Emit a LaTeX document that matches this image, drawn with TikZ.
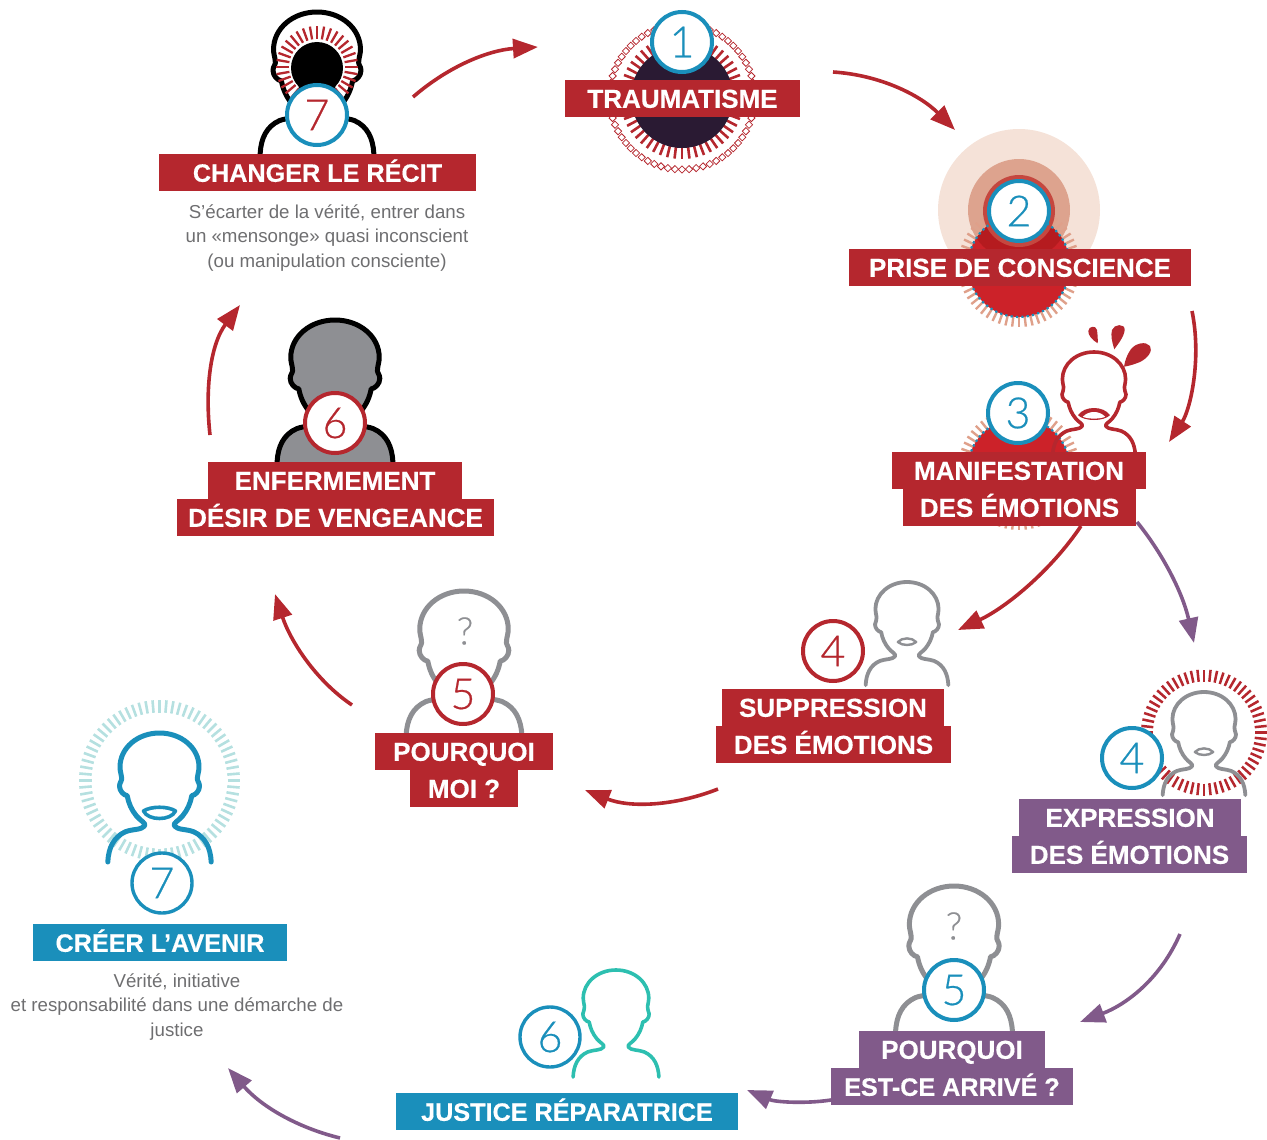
\documentclass[tikz,border=0pt]{standalone}
\usepackage{fontspec}
\setmainfont{Liberation Sans}
\newfontfamily\numfont[FakeBold=0.5]{Lato Light}
\newfontfamily\labfont[FakeBold=0.4,UprightFont=* Bold]{Liberation Sans}
\usetikzlibrary{arrows.meta}
\definecolor{cred}{HTML}{B5272E}
\definecolor{cteal}{HTML}{1A8FBB}
\definecolor{cpurple}{HTML}{815A8A}
\definecolor{cgrey}{HTML}{8E8F93}
\definecolor{cdark}{HTML}{2A1A33}
\definecolor{cdisc}{HTML}{CC2229}
\definecolor{cdiscd}{HTML}{B51B1F}
\definecolor{ctick}{HTML}{DFA08A}
\definecolor{chalo}{HTML}{F5E2D8}
\definecolor{chalob}{HTML}{DDA38E}
\definecolor{chaloc}{HTML}{C5473F}
\definecolor{cmint}{HTML}{B5E0E0}
\definecolor{cgreen}{HTML}{2DBFB0}
\definecolor{ctext}{HTML}{6E6E70}
\tikzset{
 lab/.style={rectangle,inner sep=0pt,outer sep=0pt,minimum height=37pt,text=white,font=\labfont\fontsize{26}{26}\selectfont,text height=18.6pt,text depth=0pt},
 redlab/.style={lab,fill=cred},
 purplab/.style={lab,fill=cpurple},
 teallab/.style={lab,fill=cteal},
 tight/.style={font=\labfont\fontsize{25.2}{26}\selectfont},
 numc/.style={circle,fill=white,inner sep=0pt,outer sep=0pt,minimum size=60pt,line width=4pt,font=\fontsize{43}{43}\numfont},
 arrowline/.style={line width=3.6pt,-{Triangle[length=25pt,width=19pt]}},
 blurb/.style={align=center,inner sep=0pt,text=ctext,font=\fontsize{18.7}{24.8}\selectfont},
 qmark/.style={inner sep=0pt,text=cgrey,font=\fontsize{38}{38}\numfont},
}
\newcommand\personcurve{(51.7,129) .. controls (51,115) and (46,104) .. (34,98.7)
 .. controls (27,96) and (18,97) .. (15,93)
 .. controls (13,90) and (19,88) .. (23,83)
 .. controls (28,77) and (31,70) .. (32.3,62.7)
 .. controls (36,62) and (40,58) .. (40,53)
 .. controls (40,49) and (37,48) .. (38,44)
 .. controls (38.5,40) and (39.5,38) .. (39.5,34)
 .. controls (39.5,15) and (22,0) .. (0,0)
 .. controls (-22,0) and (-39.5,15) .. (-39.5,34)
 .. controls (-39.5,38) and (-38.5,40) .. (-38,44)
 .. controls (-37,48) and (-40,49) .. (-40,53)
 .. controls (-40,58) and (-36,62) .. (-32.3,62.7)
 .. controls (-31,70) and (-28,77) .. (-23,83)
 .. controls (-19,88) and (-13,90) .. (-15,93)
 .. controls (-18,97) and (-27,96) .. (-34,98.7)
 .. controls (-46,104) and (-51,115) .. (-51.7,129)}
% x, top y, scale, colour, line width
\newcommand\person[5]{\begin{scope}[shift={(#1,#2)},xscale=#3,yscale=#3]
 \draw[#4,line width=#5pt,line cap=round,line join=round] \personcurve;
 \end{scope}}
\newcommand\smallmouth[4]{\begin{scope}[shift={(#1,#2)},xscale=#3,yscale=#3]
 \draw[#4,line width=2.4pt,line join=round] (-11.5,75) .. controls (-6,69) and (6,69) .. (11.5,75) .. controls (6,80) and (-6,80) .. (-11.5,75) -- cycle;
 \end{scope}}
% centre x, centre y, r1, r2, count, colour, width
\newcommand\ticks[7]{\foreach \ta in {1,...,#5}{
 \pgfmathsetmacro\tb{90+\ta*(360/#5)}
 \draw[#6,line width=#7pt] ([shift={(\tb:#3)}]#1,#2) -- ([shift={(\tb:#4)}]#1,#2);}}
% centre x, centre y, r, count, half diagonal, colour, line width
\newcommand\diamonds[7]{\foreach \ta in {1,...,#4}{
 \pgfmathsetmacro\tb{90+\ta*(360/#4)}
 \begin{scope}[shift={([shift={(\tb:#3)}]#1,#2)}]
 \draw[#6,line width=#7pt] (#5,0) -- (0,#5) -- (-#5,0) -- (0,-#5) -- cycle;
 \end{scope}}}
\begin{document}
\begin{tikzpicture}[x=1pt,y=-1pt]
\useasboundingbox (0,0) rectangle (1267,1140);
% --- 1 Traumatisme
\diamonds{682}{97}{72.5}{64}{3.6}{cred}{0.8}
\ticks{682}{97}{50}{62}{52}{cred}{2.6}
\fill[cdark] (682,97) circle (51);
% --- 2 Prise de conscience
\fill[chalo] (1019,210) circle (81);
\fill[chalob] (1019,210) circle (51);
\ticks{1019}{266}{50}{61}{56}{ctick}{2.4}
\fill[cdisc] (1019,266) circle (51);
\begin{scope}
 \clip (1019,210) circle (51);
 \fill[cdiscd] (1019,266) circle (51);
\end{scope}
\fill[chaloc] (1019,211) circle (36);
\draw[cteal,line width=2.2pt,dash pattern=on 2.2pt off 3.2pt] (1019,266) circle (51);
% --- 3 Manifestation
\ticks{1019}{469}{50}{61}{56}{ctick}{2.4}
\fill[cdisc] (1019,469) circle (51);
\draw[cteal,line width=2.2pt,dash pattern=on 2.2pt off 3.2pt] (1019,469) circle (51);
\person{1094}{352}{0.8}{cred}{3.6}
\begin{scope}[shift={(1094,352)},xscale=0.8,yscale=0.8]
 \fill[cred] (-20,79) .. controls (-12,67) and (12,67) .. (20,79) .. controls (12,87) and (-12,87) .. (-20,79) -- cycle;
 \fill[white] (-14,81) .. controls (-7,73) and (7,73) .. (14,81) .. controls (7,84) and (-7,84) .. (-14,81) -- cycle;
\end{scope}
\fill[cred] (1097.7,343.3) .. controls (1092,340) and (1088,335) .. (1088.3,331) .. controls (1088.5,326) and (1096,325) .. (1097,330) .. controls (1097.5,334) and (1098,339) .. (1097.7,343.3) -- cycle;
\fill[cred] (1114.3,349.3) .. controls (1112,342) and (1110.5,335) .. (1112,330) .. controls (1114,324) and (1125,323) .. (1124.7,330) .. controls (1124,337) and (1118,344) .. (1114.3,349.3) -- cycle;
\fill[cred] (1124,366.7) .. controls (1125,360) and (1127,355) .. (1131,349) .. controls (1136,343) and (1146,341) .. (1150,346) .. controls (1153,351) and (1148,358) .. (1140,362) .. controls (1135,364) and (1129,366) .. (1124,366.7) -- cycle;
% --- 4 Suppression
\person{907}{582}{0.8}{cgrey}{3.8}
\smallmouth{907}{582}{0.8}{cgrey}
% --- 4 Expression
\ticks{1204}{732.5}{51}{63}{60}{cred}{2.5}
\person{1204}{692}{0.8}{cgrey}{3.8}
\smallmouth{1204}{692}{0.8}{cgrey}
% --- 5 Pourquoi moi
\person{464}{591}{1.12}{cgrey}{5}
\node[qmark] (q1) at (465,631) {?};
% --- 5 Pourquoi est-ce arrive
\person{954}{886}{1.13}{cgrey}{5}
\node[qmark] (q2) at (954,926) {?};
% --- 6 Enfermement
\begin{scope}[shift={(335,320)},xscale=1.12,yscale=1.1]
 \fill[cgrey] \personcurve -- cycle;
 \draw[black,line width=5pt,line cap=round,line join=round] \personcurve;
\end{scope}
% --- 7 Changer le recit
\person{317}{12}{1.1}{black}{5}
\ticks{317}{67}{28}{41}{36}{cred}{2.3}
\fill[black] (317,68) circle (26);
\fill[black] (296,72) -- (338,72) -- (333,100) -- (301,100) -- cycle;
% --- 6 Justice
\person{616}{970}{0.83}{cgreen}{3.6}
% --- 7 Creer
\ticks{159.5}{780.5}{68}{80.5}{72}{cmint}{2.6}
\person{159.5}{733}{1}{cteal}{5}
\draw[cteal,line width=3.6pt,line join=round] (143.5,811) .. controls (151,806) and (168,806) .. (175.5,811) .. controls (171,821) and (148,821) .. (143.5,811) -- cycle;
% --- number circles
\node[numc,draw=cteal,text=cteal] (n1) at (682,42) {1};
\node[numc,draw=cteal,text=cteal] (n2) at (1019,211) {2};
\node[numc,draw=cteal,text=cteal] (n3) at (1018,413) {3};
\node[numc,draw=cred,text=cred] (n4r) at (833,651) {4};
\node[numc,draw=cteal,text=cteal] (n4t) at (1132,758) {4};
\node[numc,draw=cred,text=cred] (n5r) at (463,694) {5};
\node[numc,draw=cteal,text=cteal] (n5t) at (954,990) {5};
\node[numc,draw=cred,text=cred] (n6r) at (335,423) {6};
\node[numc,draw=cteal,text=cteal,line width=3.4pt] (n6t) at (550,1037) {6};
\node[numc,draw=cteal,text=cred] (n7r) at (317,115) {7};
\node[numc,draw=cteal,text=cteal,line width=3.4pt] (n7t) at (162,883) {7};
% --- labels
\node[redlab,minimum width=235pt] (l1) at (682.5,98.5) {TRAUMATISME};
\node[redlab,minimum width=342pt] (l2) at (1020,267.5) {PRISE DE CONSCIENCE};
\node[redlab,minimum width=254pt] (l3a) at (1019,470.5) {MANIFESTATION};
\node[redlab,minimum width=233pt] (l3b) at (1019.5,507.5) {DES ÉMOTIONS};
\node[redlab,minimum width=222pt] (l4a) at (833,707.5) {SUPPRESSION};
\node[redlab,minimum width=235pt] (l4b) at (833.5,744.5) {DES ÉMOTIONS};
\node[purplab,minimum width=222pt] (l4c) at (1130,817.5) {EXPRESSION};
\node[purplab,minimum width=235pt] (l4d) at (1129.5,854.5) {DES ÉMOTIONS};
\node[redlab,minimum width=178pt] (l5a) at (464,751.5) {POURQUOI};
\node[redlab,minimum width=108pt] (l5b) at (464,788.5) {MOI ?};
\node[purplab,minimum width=186pt] (l5c) at (952,1049.5) {POURQUOI};
\node[purplab,minimum width=242pt,tight] (l5d) at (952,1086.5) {EST-CE ARRIVÉ ?};
\node[redlab,minimum width=254pt] (l6a) at (335,480.5) {ENFERMEMENT};
\node[redlab,minimum width=317pt] (l6b) at (335.5,517.5) {DÉSIR DE VENGEANCE};
\node[redlab,minimum width=317pt,tight] (l7) at (317.5,172.5) {CHANGER LE RÉCIT};
\node[teallab,minimum width=342pt,tight] (l8) at (567,1111.5) {JUSTICE RÉPARATRICE};
\node[teallab,minimum width=254pt,tight] (l9) at (160,942.5) {CRÉER L\kern-2pt’AVENIR};
% --- blurbs
\node[blurb] (t1) at (327,238) {S’écarter de la vérité, entrer dans\\un «mensonge» quasi inconscient\\(ou manipulation consciente)};
\node[blurb] (t2) at (177,1007) {Vérité, initiative\\et responsabilité dans une démarche de\\justice};
% --- arrows
\coordinate (a1s) at (413,97); \coordinate (a1e) at (538,47);
\coordinate (a2s) at (833,72); \coordinate (a2e) at (955,130);
\coordinate (a3s) at (1192,311); \coordinate (a3e) at (1169,442);
\coordinate (a4s) at (1081,526); \coordinate (a4e) at (958,630);
\coordinate (a5s) at (1137,522); \coordinate (a5e) at (1194,643);
\coordinate (a6s) at (718,789); \coordinate (a6e) at (585,790);
\coordinate (a7s) at (352,705); \coordinate (a7e) at (275,594);
\coordinate (a8s) at (210,435); \coordinate (a8e) at (240,305);
\coordinate (a9s) at (1180,934); \coordinate (a9e) at (1080,1022);
\coordinate (a10s) at (831,1100); \coordinate (a10e) at (747,1090);
\coordinate (a11s) at (340,1138); \coordinate (a11e) at (228,1068);
\draw[arrowline,cred] (a1s) .. controls (450,65) and (490,50) .. (a1e);
\draw[arrowline,cred] (a2s) .. controls (880,75) and (920,95) .. (a2e);
\draw[arrowline,cred] (a3s) .. controls (1202,360) and (1190,410) .. (a3e);
\draw[arrowline,cred] (a4s) .. controls (1050,572) and (1005,608) .. (a4e);
\draw[arrowline,cpurple] (a5s) .. controls (1160,550) and (1182,590) .. (a5e);
\draw[arrowline,cred] (a6s) .. controls (675,806) and (630,808) .. (a6e);
\draw[arrowline,cred] (a7s) .. controls (315,680) and (290,640) .. (a7e);
\draw[arrowline,cred] (a8s) .. controls (205,390) and (210,345) .. (a8e);
\draw[arrowline,cpurple] (a9s) .. controls (1160,980) and (1125,1005) .. (a9e);
\draw[arrowline,cpurple] (a10s) .. controls (805,1104) and (775,1102) .. (a10e);
\draw[arrowline,cpurple] (a11s) .. controls (295,1127) and (260,1105) .. (a11e);
\end{tikzpicture}
\end{document}
